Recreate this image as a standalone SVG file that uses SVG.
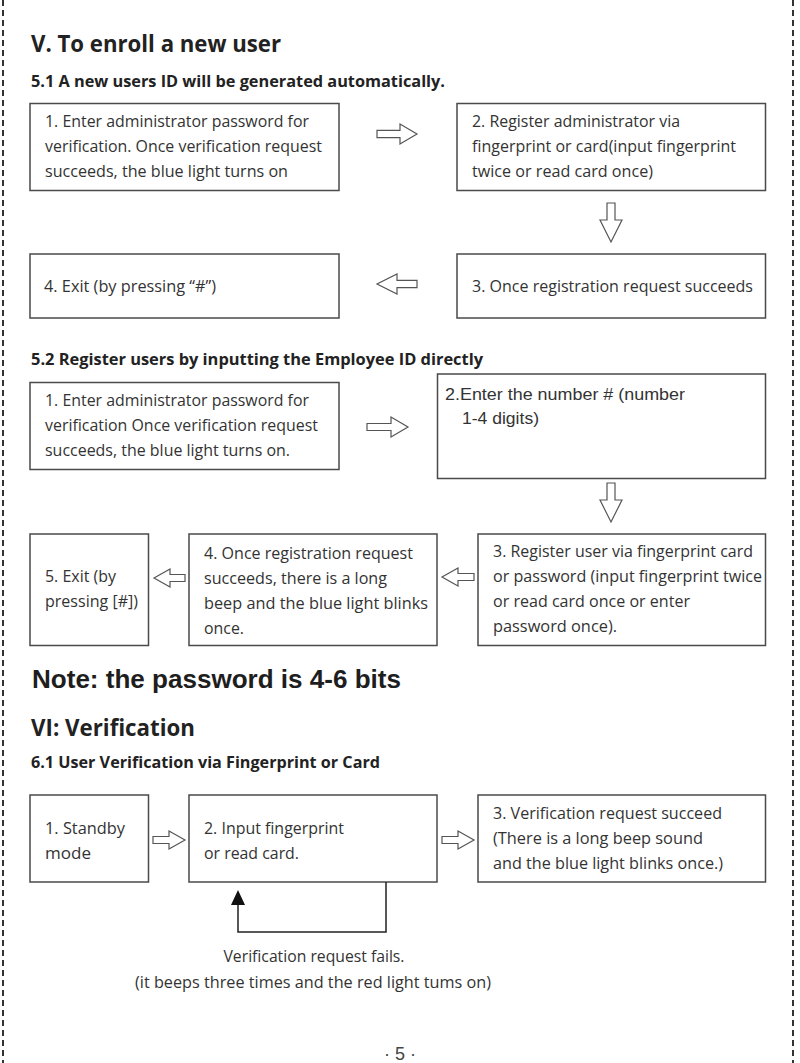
<svg xmlns="http://www.w3.org/2000/svg" width="800" height="1063" viewBox="0 0 800 1063">
<style>
.box{fill:#fff;fill-opacity:0;stroke:#4a4a4a;stroke-width:1.5}
.t{font-family:"Open Sans","Noto Sans",sans-serif;font-size:16.5px;fill:#333}
.ta{font-family:"Liberation Sans",Arial,sans-serif;font-size:17px;fill:#333}
.h1{font-family:"Open Sans","Noto Sans",sans-serif;font-weight:700;font-size:23px;fill:#222}
.h2{font-family:"Open Sans","Noto Sans",sans-serif;font-weight:700;font-size:16px;fill:#222}
.note{font-family:"Liberation Sans",Arial,sans-serif;font-weight:700;font-size:26px;fill:#1e1e1e}
.arr{fill:#fff;stroke:#555;stroke-width:1.2;stroke-linejoin:miter}
.border{stroke:#333;stroke-width:2;stroke-dasharray:6 4;fill:none}
</style>
<rect x="0" y="0" width="800" height="1063" fill="#fff"/>
<g id="page-border">
<line class="border" x1="3" y1="0" x2="3" y2="1063"/>
<line class="border" x1="793" y1="0" x2="793" y2="1063"/>
</g>
<g id="headings">
<text class="h1" x="31" y="52" textLength="250" lengthAdjust="spacingAndGlyphs">V. To enroll a new user</text>
<text class="h2" x="31" y="87" textLength="414" lengthAdjust="spacingAndGlyphs">5.1 A new users ID will be generated automatically.</text>
<text class="h2" x="31" y="365" textLength="452" lengthAdjust="spacingAndGlyphs">5.2 Register users by inputting the Employee ID directly</text>
<text class="note" x="32" y="688" textLength="369" lengthAdjust="spacingAndGlyphs">Note: the password is 4-6 bits</text>
<text class="h1" x="31" y="736" textLength="164" lengthAdjust="spacingAndGlyphs">VI: Verification</text>
<text class="h2" x="31" y="768" textLength="349" lengthAdjust="spacingAndGlyphs">6.1 User Verification via Fingerprint or Card</text>
</g>
<g id="s51-n1">
<rect class="box" x="30" y="103.5" width="309" height="87"/>
<text class="t" x="45" y="127" textLength="264" lengthAdjust="spacingAndGlyphs">1. Enter administrator password for</text>
<text class="t" x="45" y="152" textLength="277" lengthAdjust="spacingAndGlyphs">verification. Once verification request</text>
<text class="t" x="45" y="177" textLength="243" lengthAdjust="spacingAndGlyphs">succeeds, the blue light turns on</text>
</g>
<g id="s51-n2">
<rect class="box" x="457" y="103.5" width="308.5" height="87"/>
<text class="t" x="472" y="127" textLength="208" lengthAdjust="spacingAndGlyphs">2. Register administrator via</text>
<text class="t" x="472" y="152" textLength="264" lengthAdjust="spacingAndGlyphs">fingerprint or card(input fingerprint</text>
<text class="t" x="472" y="177" textLength="181" lengthAdjust="spacingAndGlyphs">twice or read card once)</text>
</g>
<g id="s51-n3">
<rect class="box" x="457" y="254" width="308.5" height="64"/>
<text class="t" x="472" y="291.5" textLength="281" lengthAdjust="spacingAndGlyphs">3. Once registration request succeeds</text>
</g>
<g id="s51-n4">
<rect class="box" x="30" y="254" width="309" height="64"/>
<text class="t" x="44" y="292" textLength="172" lengthAdjust="spacingAndGlyphs">4. Exit (by pressing “#”)</text>
</g>
<g id="s52-n1">
<rect class="box" x="30" y="382.5" width="309" height="87"/>
<text class="t" x="45" y="405.5" textLength="264" lengthAdjust="spacingAndGlyphs">1. Enter administrator password for</text>
<text class="t" x="45" y="431" textLength="273" lengthAdjust="spacingAndGlyphs">verification Once verification request</text>
<text class="t" x="45" y="455.5" textLength="245" lengthAdjust="spacingAndGlyphs">succeeds, the blue light turns on.</text>
</g>
<g id="s52-n2">
<rect class="box" x="437.5" y="374" width="328" height="104.5"/>
<text class="ta" x="445" y="400" textLength="240" lengthAdjust="spacingAndGlyphs">2.Enter the number # (number</text>
<text class="ta" x="462" y="424" textLength="77" lengthAdjust="spacingAndGlyphs">1-4 digits)</text>
</g>
<g id="s52-n3">
<rect class="box" x="478" y="534" width="287.5" height="111.5"/>
<text class="t" x="493" y="557" textLength="260" lengthAdjust="spacingAndGlyphs">3. Register user via fingerprint card</text>
<text class="t" x="493" y="582" textLength="269" lengthAdjust="spacingAndGlyphs">or password (input fingerprint twice</text>
<text class="t" x="493" y="607" textLength="197" lengthAdjust="spacingAndGlyphs">or read card once or enter</text>
<text class="t" x="493" y="632" textLength="124" lengthAdjust="spacingAndGlyphs">password once).</text>
</g>
<g id="s52-n4">
<rect class="box" x="189" y="534" width="248" height="111.5"/>
<text class="t" x="204" y="558.5" textLength="209" lengthAdjust="spacingAndGlyphs">4. Once registration request</text>
<text class="t" x="204" y="583.5" textLength="183" lengthAdjust="spacingAndGlyphs">succeeds, there is a long</text>
<text class="t" x="204" y="608.5" textLength="224" lengthAdjust="spacingAndGlyphs">beep and the blue light blinks</text>
<text class="t" x="204" y="633.5" textLength="40" lengthAdjust="spacingAndGlyphs">once.</text>
</g>
<g id="s52-n5">
<rect class="box" x="30" y="534" width="118.5" height="111.5"/>
<text class="t" x="45" y="582" textLength="71" lengthAdjust="spacingAndGlyphs">5. Exit (by</text>
<text class="t" x="45" y="607" textLength="93" lengthAdjust="spacingAndGlyphs">pressing [#])</text>
</g>
<g id="s61-n1">
<rect class="box" x="30" y="795" width="118.5" height="87"/>
<text class="t" x="45" y="834" textLength="80" lengthAdjust="spacingAndGlyphs">1. Standby</text>
<text class="t" x="45" y="858.5" textLength="46" lengthAdjust="spacingAndGlyphs">mode</text>
</g>
<g id="s61-n2">
<rect class="box" x="189" y="795" width="248" height="87"/>
<text class="t" x="204" y="834" textLength="140" lengthAdjust="spacingAndGlyphs">2. Input fingerprint</text>
<text class="t" x="204" y="858.5" textLength="95" lengthAdjust="spacingAndGlyphs">or read card.</text>
</g>
<g id="s61-n3">
<rect class="box" x="478" y="795" width="287.5" height="87"/>
<text class="t" x="493" y="819" textLength="229" lengthAdjust="spacingAndGlyphs">3. Verification request succeed</text>
<text class="t" x="493" y="844" textLength="210" lengthAdjust="spacingAndGlyphs">(There is a long beep sound</text>
<text class="t" x="493" y="868.5" textLength="230" lengthAdjust="spacingAndGlyphs">and the blue light blinks once.)</text>
</g>
<g id="s61-fail-label">
<text class="t" x="314" y="962" text-anchor="middle" textLength="181" lengthAdjust="spacingAndGlyphs">Verification request fails.</text>
<text class="t" x="313" y="988" text-anchor="middle" textLength="356" lengthAdjust="spacingAndGlyphs">(it beeps three times and the red light tums on)</text>
</g>
<g id="connectors">
<path class="arr" d="M377,130.3 H400 V124 L417,134 L400,144 V137.7 H377 Z"/>
<path class="arr" d="M607,203 H615 V220 H622 L611,242 L600,220 H607 Z"/>
<path class="arr" d="M417,280.3 H397 V274 L377,284 L397,294 V287.7 H417 Z"/>
<path class="arr" d="M367,423.5 H391 V417 L408,427 L391,437 V430.5 H367 Z"/>
<path class="arr" d="M607,483 H615 V500 H622 L611,522 L600,500 H607 Z"/>
<path class="arr" d="M474,573.5 H458 V568 L442,577 L458,586 V580.5 H474 Z"/>
<path class="arr" d="M185,574.5 H170 V569 L154,578 L170,587 V581.5 H185 Z"/>
<path class="arr" d="M153,836.5 H169 V831 L185,840 L169,849 V843.5 H153 Z"/>
<path class="arr" d="M442,836.5 H458 V831 L474,840 L458,849 V843.5 H442 Z"/>
<path d="M386,882 V932 H238 V904" fill="none" stroke="#222" stroke-width="1.5"/>
<polygon points="231,905 245,905 238,890" fill="#111"/>
</g>
<g id="page-number">
<text x="400" y="1060" text-anchor="middle" font-family="Liberation Sans, Arial, sans-serif" font-size="18" fill="#444">· 5 ·</text>
</g>
</svg>
